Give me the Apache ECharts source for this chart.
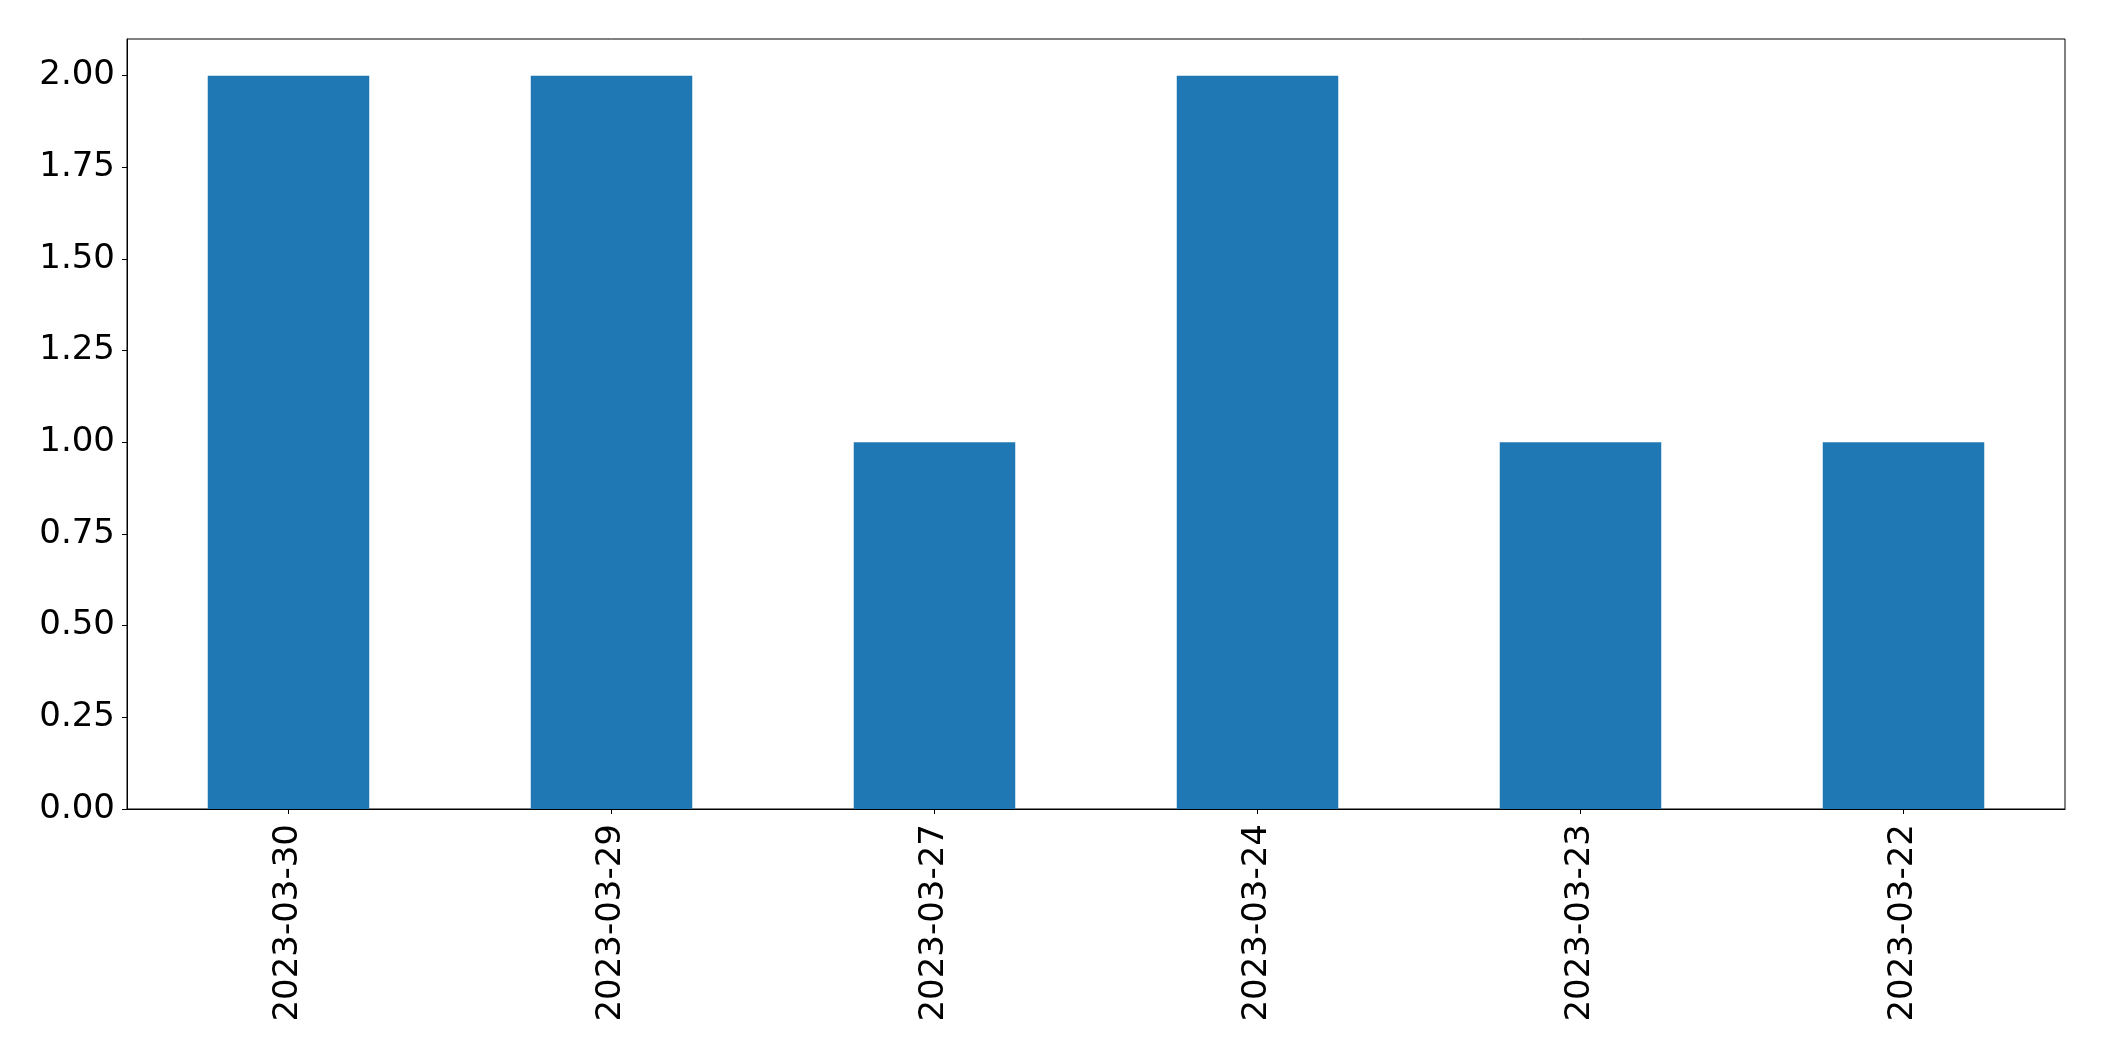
<!DOCTYPE html>
<html><head><meta charset="utf-8">
<script src="https://cdn.jsdelivr.net/npm/echarts@6/dist/echarts.min.js"></script>
<style>html,body{margin:0;padding:0;background:#fff}#c{width:2104px;height:1061px}</style>
</head><body><div id="c"></div>
<script>
const categories = ['2023-03-30','2023-03-29','2023-03-27','2023-03-24','2023-03-23','2023-03-22'];
const values = [2, 2, 1, 2, 1, 1];
const yTicks = [0, 0.25, 0.5, 0.75, 1.0, 1.25, 1.5, 1.75, 2.0];
const chart = echarts.init(document.getElementById('c'), null, {renderer:'canvas'});
const font = 'DejaVu Sans';
chart.setOption({
  animation:false,
  backgroundColor:'#fff',
  grid:{left:127,right:39,top:39,bottom:252,show:true,borderColor:'#000',borderWidth:1,backgroundColor:'transparent'},
  xAxis:{type:'category',data:categories,
    axisLine:{show:true,lineStyle:{color:'#000',width:1}},
    axisTick:{show:true,alignWithLabel:true,length:5,lineStyle:{color:'#000'}},
    axisLabel:{rotate:90,fontSize:34,fontFamily:font,color:'#000',margin:15,interval:0}},
  yAxis:{type:'value',min:0,max:2.1,interval:0.25,
    axisLine:{show:true,lineStyle:{color:'#000',width:1}},
    axisTick:{show:true,length:5,lineStyle:{color:'#000'},customValues:yTicks},
    splitLine:{show:false},
    axisLabel:{fontSize:34,fontFamily:font,color:'#000',margin:12,customValues:yTicks,
      formatter:v=>v.toFixed(2)}},
  series:[{type:'bar',data:values,barWidth:'50%',itemStyle:{color:'#1f77b4'}}]
});
</script></body></html>
